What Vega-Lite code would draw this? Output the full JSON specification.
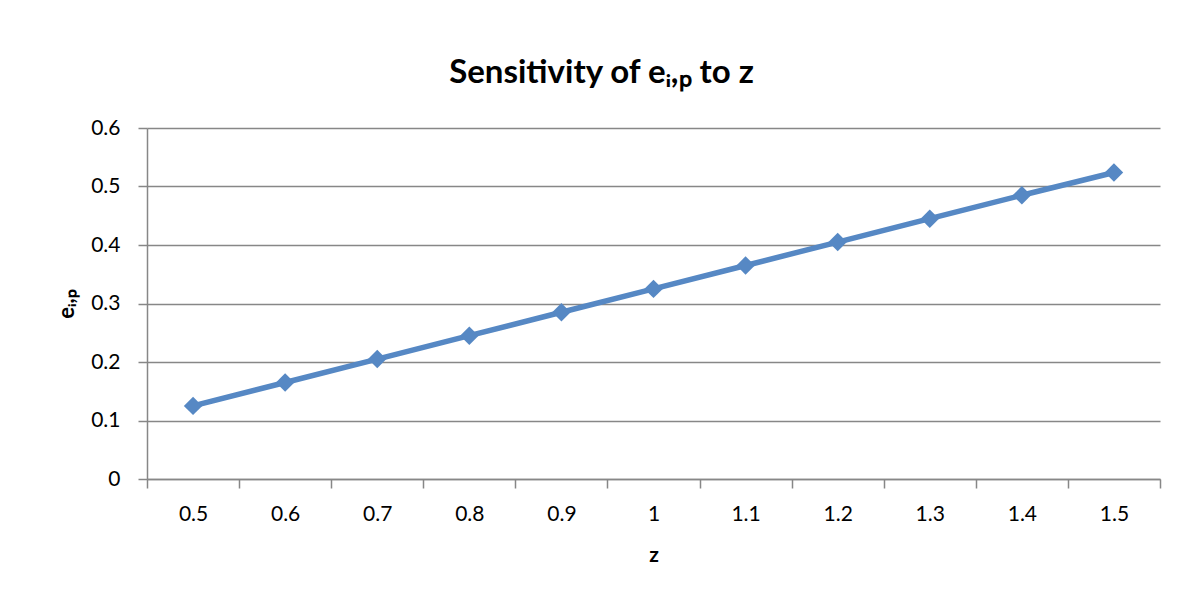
{
  "$schema": "https://vega.github.io/schema/vega-lite/v6.json",
  "autosize": "none",
  "width": 1013,
  "height": 351,
  "padding": {"left": 147, "top": 128, "right": 35, "bottom": 127},
  "background": "white",
  "config": {
    "font": "Lato",
    "view": {"stroke": null}
  },
  "title": {
    "text": "Sensitivity of eᵢ,ₚ to z",
    "font": "Lato",
    "fontSize": 33,
    "fontWeight": "bold",
    "color": "#000000",
    "anchor": "middle",
    "dx": -52,
    "offset": 27
  },
  "data": {
    "values": [
      {"z": "0.5", "e": 0.125},
      {"z": "0.6", "e": 0.165},
      {"z": "0.7", "e": 0.205},
      {"z": "0.8", "e": 0.245},
      {"z": "0.9", "e": 0.285},
      {"z": "1", "e": 0.325},
      {"z": "1.1", "e": 0.365},
      {"z": "1.2", "e": 0.405},
      {"z": "1.3", "e": 0.445},
      {"z": "1.4", "e": 0.485},
      {"z": "1.5", "e": 0.524}
    ]
  },
  "encoding": {
    "x": {
      "field": "z",
      "type": "ordinal",
      "sort": null,
      "scale": {"type": "band", "paddingInner": 0, "paddingOuter": 0},
      "axis": {
        "title": "z",
        "titleFont": "Lato",
        "titleFontSize": 21,
        "titleFontWeight": "bold",
        "titleColor": "#000000",
        "titlePadding": 20,
        "labelAngle": 0,
        "labelFont": "Lato",
        "labelFontSize": 21,
        "labelColor": "#000000",
        "labelPadding": 15,
        "tickBand": "extent",
        "tickSize": 9,
        "tickColor": "#878787",
        "tickWidth": 1.5,
        "domainColor": "#878787",
        "domainWidth": 1.5,
        "grid": false
      }
    },
    "y": {
      "field": "e",
      "type": "quantitative",
      "scale": {"domain": [0, 0.6], "nice": false},
      "axis": {
        "title": "eᵢ,ₚ",
        "titleFont": "Lato",
        "titleFontSize": 22,
        "titleFontWeight": "bold",
        "titleColor": "#000000",
        "titlePadding": 12,
        "values": [0, 0.1, 0.2, 0.3, 0.4, 0.5, 0.6],
        "format": ".1~f",
        "labelFont": "Lato",
        "labelFontSize": 21,
        "labelColor": "#000000",
        "labelPadding": 18,
        "tickSize": 9,
        "tickColor": "#878787",
        "tickWidth": 1.5,
        "domainColor": "#878787",
        "domainWidth": 1.5,
        "grid": true,
        "gridColor": "#878787",
        "gridWidth": 1.5
      }
    }
  },
  "layer": [
    {"mark": {"type": "line", "color": "#5688C4", "strokeWidth": 5.5}},
    {"mark": {"type": "point", "shape": "diamond", "filled": true, "color": "#5688C4", "opacity": 1, "size": 340}}
  ]
}
